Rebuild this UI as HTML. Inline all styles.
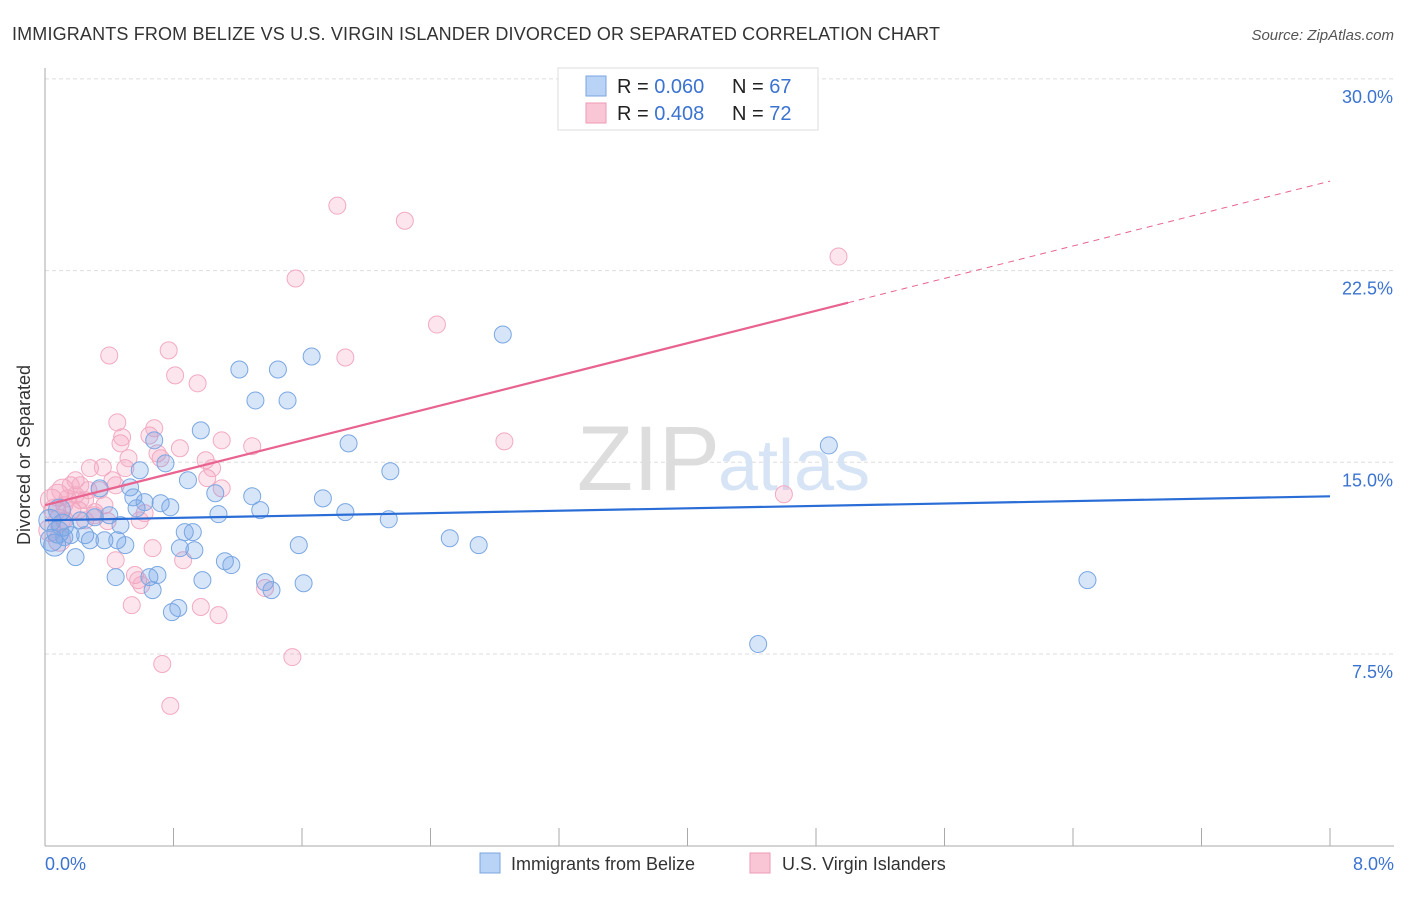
<!DOCTYPE html>
<html><head><meta charset="utf-8"><style>
body{margin:0;background:#fff;font-family:"Liberation Sans",sans-serif;}
svg text{font-family:"Liberation Sans",sans-serif;}
</style></head><body>
<svg width="1406" height="892" viewBox="0 0 1406 892">
<text x="12" y="40" font-size="18" fill="#333" textLength="928">IMMIGRANTS FROM BELIZE VS U.S. VIRGIN ISLANDER DIVORCED OR SEPARATED CORRELATION CHART</text>
<text x="1394" y="40" font-size="15" fill="#555" font-style="italic" text-anchor="end">Source: ZipAtlas.com</text>
<g id="grid"></g>
<g id="axes"></g>
<text x="720" y="490" font-size="92" fill="#ddd" text-anchor="end" font-family="Liberation Serif">ZIP</text>
<text x="718" y="490" font-size="72" fill="#d6e4f5">atlas</text>
<g id="pts"></g>
<g id="lines"></g>
<text x="30" y="455" font-size="18" fill="#333" text-anchor="middle" transform="rotate(-90 30 455)">Divorced or Separated</text>
<text x="45" y="870" font-size="18" fill="#3b73d1">0.0%</text>
<text x="1394" y="870" font-size="18" fill="#3b73d1" text-anchor="end">8.0%</text>
<g>
<rect x="558" y="68" width="260" height="62" fill="#fff" stroke="#ddd"/>
<rect x="586" y="76" width="20" height="20" fill="#b8d3f5" stroke="#7aa6e0"/>
<rect x="586" y="103" width="20" height="20" fill="#f9c6d6" stroke="#ee9ab5"/>
<text x="617" y="93" font-size="20" fill="#222">R = <tspan fill="#3b73d1">0.060</tspan></text>
<text x="732" y="93" font-size="20" fill="#222">N = <tspan fill="#3b73d1">67</tspan></text>
<text x="617" y="120" font-size="20" fill="#222">R = <tspan fill="#3b73d1">0.408</tspan></text>
<text x="732" y="120" font-size="20" fill="#222">N = <tspan fill="#3b73d1">72</tspan></text>
</g>
<g>
<rect x="480" y="853" width="20" height="20" fill="#b8d3f5" stroke="#7aa6e0"/>
<text x="511" y="870" font-size="18" fill="#333">Immigrants from Belize</text>
<rect x="750" y="853" width="20" height="20" fill="#f9c6d6" stroke="#ee9ab5"/>
<text x="782" y="870" font-size="18" fill="#333">U.S. Virgin Islanders</text>
</g>
</svg>
<script>
const yTicks=[7.5,15,22.5,30];
const yTickLabels=["7.5%","15.0%","22.5%","30.0%"];
const blueX=[0.04,0.06,0.08,0.11,0.12,0.19,0.22,0.25,0.28,0.31,0.34,0.37,0.40,0.44,0.45,0.47,0.50,0.53,0.55,0.57,0.59,0.62,0.65,0.67,0.68,0.70,0.72,0.75,0.78,0.79,0.83,0.84,0.87,0.89,0.92,0.93,0.97,0.98,1.06,1.08,1.12,1.16,1.21,1.29,1.31,1.34,1.37,1.41,1.45,1.51,1.58,1.61,1.66,1.73,1.87,1.89,2.14,2.15,2.52,2.70,2.85,4.44,4.88,6.49,0.03,0.09,0.16];
const blueY=[11.95,11.76,12.27,12.54,12.07,11.29,12.73,12.15,11.95,12.85,13.98,11.95,12.93,10.51,11.95,12.54,11.76,14.02,13.63,13.20,14.69,13.44,10.51,10.00,15.86,10.59,13.40,14.96,13.24,9.14,9.30,11.64,12.27,14.30,12.27,11.56,16.25,10.39,13.79,12.97,11.13,10.98,18.63,13.67,17.42,13.13,10.31,10.00,18.63,17.42,11.76,10.27,19.14,13.59,13.05,15.74,12.77,14.65,12.03,11.76,20.00,7.89,15.66,10.39,12.73,13.13,12.15];
const pinkX=[0.03,0.04,0.06,0.08,0.09,0.11,0.12,0.14,0.16,0.17,0.19,0.21,0.22,0.25,0.27,0.28,0.31,0.34,0.36,0.37,0.39,0.40,0.42,0.44,0.45,0.47,0.48,0.50,0.52,0.54,0.56,0.58,0.60,0.62,0.65,0.67,0.68,0.70,0.72,0.73,0.77,0.78,0.81,0.84,0.86,0.95,0.97,1.00,1.01,1.04,1.08,1.10,1.10,1.29,1.37,1.54,1.56,1.82,1.87,2.24,2.44,2.86,4.60,4.94,0.09,0.12,0.19,0.25,0.31,0.59,0.44,0.22];
const pinkY=[12.34,13.52,13.13,13.71,12.73,13.91,13.32,13.59,14.10,13.13,14.30,13.13,14.10,13.52,13.91,14.77,13.05,13.91,14.80,13.32,12.70,19.18,14.30,11.17,16.56,15.74,15.98,14.77,15.16,9.41,10.59,10.39,10.20,13.01,16.05,11.64,16.33,15.35,15.16,7.11,19.38,5.47,18.40,15.55,11.17,18.09,9.34,15.08,14.38,14.77,9.02,15.86,13.98,15.63,10.08,7.38,22.19,25.04,19.10,24.45,20.39,15.82,13.75,23.05,11.95,12.73,13.71,12.73,12.93,12.73,14.10,13.52];
const blueTrend=[12.73,13.67];   // y at x=0 and x=8
const pinkTrend=[13.32,26.0];    // y at x=0 and x=8
const pinkSolidEnd=5.0;
const xMax=8;
const NS="http://www.w3.org/2000/svg";
const X=v=>45+v*(1330-45)/xMax;
const Y=v=>845.7-v*25.56;
function mk(tag,attrs,parent){const e=document.createElementNS(NS,tag);for(const k in attrs)e.setAttribute(k,attrs[k]);parent.appendChild(e);return e;}
const grid=document.getElementById('grid'),axes=document.getElementById('axes'),pts=document.getElementById('pts'),lines=document.getElementById('lines');
yTicks.forEach((t,i)=>{
  const l=mk('line',{x1:45,x2:1394,y1:Y(t),y2:Y(t),stroke:'#ddd','stroke-dasharray':'4,3'},grid);
  
  
  const tx=mk('text',{x:1393,y:Y(t)+24,'font-size':18,fill:'#3b73d1','text-anchor':'end'},grid);
  tx.textContent=yTickLabels[i];
  
  
});
const ya=mk('line',{x1:45,x2:45,y1:68,y2:846,stroke:'#aaa'},axes);


const xa=mk('line',{x1:45,x2:1394,y1:846,y2:846,stroke:'#aaa'},axes);


for(let i=0;i<=10;i++){const v=i*0.8;
  const t=mk('line',{x1:X(v),x2:X(v),y1:828,y2:846,stroke:'#aaa'},axes);
  
  }
function dots(xs,ys,fill,stroke,name){xs.forEach((x,i)=>{
  const r=(x<0.12)?11:8.5;
  const c=mk('circle',{cx:X(x),cy:Y(ys[i]),r:r,fill:fill,stroke:stroke,'stroke-width':1},pts);
  
  });}
dots(pinkX,pinkY,'rgba(245,160,190,0.28)','#f2aac2','point-virgin-islanders');
dots(blueX,blueY,'rgba(110,160,230,0.28)','#7aa7e2','point-belize');
const bl=mk('line',{x1:X(0),y1:Y(blueTrend[0]),x2:X(xMax),y2:Y(blueTrend[1]),stroke:'#2a6dd6','stroke-width':2.2},lines);


const py=x=>pinkTrend[0]+(pinkTrend[1]-pinkTrend[0])*x/xMax;
const pl=mk('line',{x1:X(0),y1:Y(py(0)),x2:X(pinkSolidEnd),y2:Y(py(pinkSolidEnd)),stroke:'#e8638f','stroke-width':2.2},lines);


const pd=mk('line',{x1:X(pinkSolidEnd),y1:Y(py(pinkSolidEnd)),x2:X(xMax),y2:Y(py(xMax)),stroke:'#e8638f','stroke-width':1,'stroke-dasharray':'6,5'},lines);


</script>
</body></html>
